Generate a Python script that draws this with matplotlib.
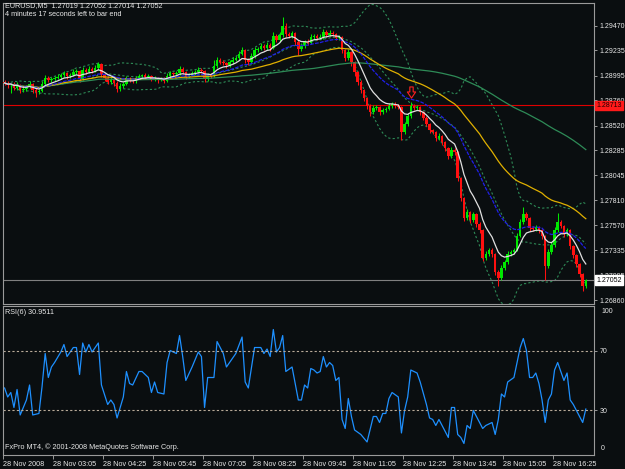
import numpy as np
import pandas as pd
import matplotlib
matplotlib.use("Agg")
import matplotlib.pyplot as plt
import matplotlib.transforms as mtransforms
from matplotlib.path import Path

closes = [
    1.28924, 1.28905, 1.28914, 1.28876, 1.28905, 1.28857, 1.28867, 1.28886,
    1.28914, 1.28857, 1.28838, 1.28848, 1.28914, 1.28971, 1.28952, 1.28962,
    1.28971, 1.28981, 1.29000, 1.29019, 1.28990, 1.29000, 1.29028, 1.29038,
    1.28962, 1.29047, 1.29028, 1.29057, 1.29038, 1.29066, 1.29104, 1.29009,
    1.28971, 1.28933, 1.28952, 1.28924, 1.28867, 1.28895, 1.28914, 1.28971,
    1.28952, 1.28943, 1.28971, 1.28990, 1.29000, 1.28981, 1.28990, 1.28962,
    1.28971, 1.28952, 1.28962, 1.28943, 1.28990, 1.29019, 1.29009, 1.29019,
    1.29057, 1.29028, 1.28990, 1.29000, 1.29019, 1.29028, 1.29047, 1.29038,
    1.28962, 1.29000, 1.28990, 1.29085, 1.29142, 1.29123, 1.29114, 1.29095,
    1.29123, 1.29142, 1.29161, 1.29199, 1.29237, 1.29142, 1.29123, 1.29180,
    1.29237, 1.29247, 1.29275, 1.29256, 1.29285, 1.29256, 1.29370, 1.29332,
    1.29380, 1.29465, 1.29389, 1.29370, 1.29399, 1.29313, 1.29247, 1.29275,
    1.29313, 1.29304, 1.29361, 1.29370, 1.29351, 1.29361, 1.29408, 1.29380,
    1.29399, 1.29389, 1.29351, 1.29361, 1.29237, 1.29161, 1.29218, 1.29123,
    1.29028, 1.28933, 1.28857, 1.28781, 1.28705, 1.28648, 1.28686, 1.28696,
    1.28648, 1.28667, 1.28677, 1.28705, 1.28724, 1.28705, 1.28696, 1.28458,
    1.28534, 1.28610, 1.28705, 1.28686, 1.28696, 1.28648, 1.28591, 1.28534,
    1.28477, 1.28458, 1.28401, 1.28420, 1.28363, 1.28306, 1.28230, 1.28287,
    1.28268, 1.28021, 1.27831, 1.27641, 1.27698, 1.27622, 1.27679, 1.27584,
    1.27527, 1.27261, 1.27299, 1.27337, 1.27299, 1.27128, 1.27071, 1.27166,
    1.27223, 1.27299, 1.27318, 1.27337, 1.27470, 1.27603, 1.27679, 1.27641,
    1.27546, 1.27537, 1.27556, 1.27527, 1.27470, 1.27185, 1.27318, 1.27385,
    1.27527, 1.27603, 1.27565, 1.27489, 1.27527, 1.27375, 1.27290, 1.27204,
    1.27109, 1.26995, 1.27052,
]
first_open = 1.28933

# ombres hautes / basses en pips
upper_wick = [
    2, 2, 1, 2, 3, 1, 2, 2, 3, 1, 2, 2, 3, 3, 2, 2,
    2, 3, 2, 2, 1, 2, 3, 2, 1, 3, 2, 3, 2, 3, 2, 1,
    1, 2, 3, 1, 2, 3, 2, 2, 1, 2, 2, 2, 1, 2, 2, 1,
    2, 1, 2, 2, 3, 2, 1, 2, 3, 2, 1, 2, 2, 2, 3, 2,
    1, 2, 2, 6, 3, 2, 2, 1, 2, 3, 2, 3, 3, 1, 2, 3,
    3, 2, 3, 2, 3, 2, 4, 2, 3, 9, 3, 2, 2, 1, 2, 3,
    2, 3, 3, 2, 2, 3, 3, 2, 3, 2, 1, 2, 1, 1, 3, 1,
    1, 1, 2, 1, 1, 2, 3, 2, 1, 2, 2, 3, 2, 2, 2, 1,
    2, 3, 4, 2, 2, 1, 1, 2, 1, 1, 1, 3, 1, 1, 1, 3,
    2, 1, 1, 1, 3, 1, 2, 1, 2, 1, 3, 2, 2, 1, 2, 3,
    2, 3, 2, 2, 3, 3, 7, 2, 1, 2, 2, 1, 1, 1, 3, 3,
    3, 9, 2, 1, 2, 1, 1, 1, 1, 1, 1,
]
lower_wick = [
    2, 3, 8, 2, 2, 3, 2, 2, 1, 3, 5, 2, 1, 2, 2, 2,
    2, 1, 2, 2, 3, 2, 1, 2, 3, 1, 2, 1, 2, 1, 2, 3,
    3, 2, 2, 3, 3, 2, 2, 1, 2, 2, 2, 1, 2, 1, 2, 2,
    2, 3, 1, 2, 1, 2, 2, 1, 2, 2, 3, 2, 1, 2, 1, 2,
    3, 2, 2, 1, 2, 2, 2, 3, 2, 2, 1, 2, 1, 3, 3, 2,
    2, 2, 1, 2, 2, 3, 1, 2, 2, 2, 3, 2, 2, 3, 6, 2,
    2, 2, 1, 2, 2, 1, 2, 2, 1, 2, 2, 2, 3, 3, 2, 4,
    4, 3, 3, 3, 3, 4, 2, 2, 3, 2, 2, 1, 2, 2, 2, 8,
    2, 2, 2, 2, 2, 3, 2, 2, 3, 2, 3, 2, 3, 3, 3, 2,
    3, 3, 3, 3, 2, 3, 2, 3, 3, 3, 2, 2, 3, 3, 8, 2,
    2, 2, 2, 2, 1, 1, 2, 2, 3, 2, 2, 3, 3, 13, 2, 2,
    2, 2, 2, 3, 2, 3, 3, 3, 3, 5, 2,
]

rsi_bars = [0, 1, 2, 3, 4, 5, 6, 7, 8, 9, 11, 12, 13, 14, 15, 16, 18, 19, 20, 22,
            23, 24, 25, 26, 27, 28, 30, 31, 33, 34, 35, 36, 38, 39, 40, 41, 43, 44,
            46, 47, 48, 49, 51, 52, 53, 55, 56, 57, 58, 60, 62, 63, 64, 65, 67, 68,
            70, 71, 74, 76, 77, 78, 80, 82, 83, 84, 85, 86, 87, 88, 89, 90, 92, 94,
            95, 96, 97, 98, 99, 100, 101, 102, 103, 104, 105, 106, 107, 108, 109,
            110, 111, 112, 114, 116, 118, 119, 120, 121, 122, 123, 124, 126, 127,
            128, 129, 130, 132, 133, 135, 136, 137, 138, 139, 142, 143, 144, 145,
            146, 147, 148, 149, 150, 151, 153, 154, 156, 157, 158, 159, 160, 161,
            163, 165, 166, 167, 168, 169, 170, 171, 172, 173, 174, 175, 176, 177,
            179, 180, 181, 182, 183, 185, 186]
rsi_vals = [45, 39, 42, 32, 44, 27, 32, 37, 47, 27, 28, 46, 68, 52, 59, 62, 69, 74, 66, 72,
            72, 54, 75, 69, 74, 69, 75, 47, 34, 37, 34, 25, 39, 56, 48, 47, 56, 56,
            52, 42, 49, 42, 41, 62, 70, 68, 80, 66, 50, 59, 69, 66, 32, 52, 52, 76,
            68, 59, 68, 79, 49, 45, 72, 72, 68, 71, 66, 84, 69, 72, 80, 56, 59, 37,
            37, 47, 45, 58, 57, 55, 56, 66, 59, 62, 60, 50, 52, 24, 18,
            38, 26, 17, 14, 9, 26, 26, 22, 28, 28, 38, 42, 39, 15,
            30, 39, 57, 55, 49, 34, 25, 24, 20, 24, 12, 32, 32, 14,
            12, 8, 20, 18, 30, 26, 18, 20, 22, 14, 24, 41, 39, 49,
            52, 72, 78, 70, 52, 52, 55, 48, 37, 22, 37, 41, 57, 62,
            50, 55, 37, 34, 30, 22, 30.95]

time_labels = ["28 Nov 2008", "28 Nov 03:05", "28 Nov 04:25", "28 Nov 05:45",
               "28 Nov 07:05", "28 Nov 08:25", "28 Nov 09:45", "28 Nov 11:05",
               "28 Nov 12:25", "28 Nov 13:45", "28 Nov 15:05", "28 Nov 16:25"]
price_ticks = [1.29470, 1.29235, 1.28995, 1.28760, 1.28520, 1.28285,
               1.28045, 1.27810, 1.27570, 1.27335, 1.27095, 1.26860]
ask_price = 1.28713
last_price = 1.27052
arrow_bar = 130
arrow_price = 1.28838

BG = "#0a0e10"
FRAME = "#9a9a9a"
TXT = "#e8e8e8"
FONT = "Liberation Sans"

n = len(closes)
x = np.arange(n)
opens = [first_open] + closes[:-1]
o = np.array(opens)
c = np.array(closes)
hi = np.maximum(o, c) + np.array(upper_wick) * 0.0001
lo = np.minimum(o, c) - np.array(lower_wick) * 0.0001

s = pd.Series(closes)
ma_white = s.ewm(span=8).mean()
ma_blue = s.ewm(span=21).mean()
ma_yellow = s.ewm(span=50).mean()
ma_green = s.rolling(100, min_periods=1).mean()
bb_mid = s.rolling(20, min_periods=1).mean()
bb_sd = s.rolling(20, min_periods=3).std(ddof=0)

fig = plt.figure(figsize=(6.25, 4.69), dpi=100, facecolor=BG)
ax = fig.add_axes([3 / 625, 165 / 469, 591 / 625, 301 / 469], facecolor=BG)
ax2 = fig.add_axes([3 / 625, 14 / 469, 591 / 625, 149 / 469], facecolor=BG, sharex=ax)

# bandes de Bollinger
ax.plot(x, bb_mid + 2 * bb_sd, color="#2e8b57", lw=0.8, ls=(0, (2, 2)))
ax.plot(x, bb_mid - 2 * bb_sd, color="#2e8b57", lw=0.8, ls=(0, (2, 2)))
ax.plot(x, bb_mid, color="#2e8b57", lw=0.8, ls=(0, (2, 2)))

# bougies
up = c >= o
col = np.where(up, "#00e800", "#ff1010")
ax.vlines(x, lo, hi, colors=col, lw=0.75, zorder=3)
body = np.maximum(np.abs(c - o), 0.00003)
ax.bar(x, body, bottom=np.minimum(o, c), width=0.8, color=col, lw=0, zorder=3)

# moyennes mobiles
ax.plot(x, ma_green, color="#2e8b57", lw=0.9, zorder=4)
ax.plot(x, ma_yellow, color="#e0b000", lw=0.9, zorder=4)
ax.plot(x, ma_blue, color="#2020e8", lw=0.9, ls=(0, (3, 1)), zorder=4)
ax.plot(x, ma_white, color="#e0e0e0", lw=0.9, zorder=4)

ax.axhline(ask_price, color="#e00000", lw=0.8, zorder=2)
ax.axhline(last_price, color="#808080", lw=0.8, zorder=2)

# fleche de signal (creuse, vers le bas)
arrow_path = Path([(-0.3, 1), (0.3, 1), (0.3, 0.1), (0.75, 0.1), (0, -1),
                   (-0.75, 0.1), (-0.3, 0.1), (-0.3, 1)], closed=True)
ax.plot([arrow_bar], [arrow_price], marker=arrow_path, ms=8, mfc="none",
        mec="#ff2020", mew=0.8, ls="none", zorder=5)

ax.set_xlim(-0.5, -0.5 + 591 / 3.125)
ax.set_ylim(1.26824, 1.29684)
ax.yaxis.tick_right()
ax.set_yticks(price_ticks)
ax.set_yticklabels(["%.5f" % p for p in price_ticks])
ax.tick_params(axis="y", colors=FRAME, labelcolor=TXT, labelsize=5, length=2.5,
               width=0.7, pad=1.5)
ax.tick_params(axis="x", bottom=False, labelbottom=False)
for lab in ax.get_yticklabels():
    lab.set_family(FONT)

tr = mtransforms.blended_transform_factory(ax.transAxes, ax.transData)
ax.text(1.004, ask_price, "%.5f" % ask_price, transform=tr, fontsize=5, family=FONT,
        color="#200000", va="center", ha="left", zorder=10,
        bbox=dict(boxstyle="square,pad=0.15", fc="#ff1a1a", ec="#ff1a1a"))
ax.text(1.004, last_price, "%.5f" % last_price, transform=tr, fontsize=5, family=FONT,
        color="black", va="center", ha="left", zorder=10,
        bbox=dict(boxstyle="square,pad=0.15", fc="white", ec="white"))

# RSI
ax2.plot(rsi_bars, rsi_vals, color="#1e90ff", lw=0.9)
ax2.axhline(70, color="#b8aa98", lw=0.8, ls=(0, (2, 2)))
ax2.axhline(30, color="#b8aa98", lw=0.8, ls=(0, (2, 2)))
ax2.set_ylim(0.3, 99.7)
ax2.yaxis.tick_right()
ax2.set_yticks([70, 30])
ax2.set_yticklabels(["70", "30"])
ax2.tick_params(axis="y", colors=FRAME, labelcolor=TXT, labelsize=5, length=2.5,
                width=0.7, pad=1.5)
ax2.text(1.012, 0.985, "100", transform=ax2.transAxes, fontsize=5, family=FONT,
         color=TXT, va="top", ha="left")
ax2.text(1.012, 0.02, "0", transform=ax2.transAxes, fontsize=5, family=FONT,
         color=TXT, va="bottom", ha="left")
ax2.set_xticks([16 * k - 0.5 for k in range(len(time_labels))])
ax2.set_xticklabels(time_labels)
ax2.tick_params(axis="x", colors=FRAME, labelcolor=TXT, labelsize=5.2, length=3,
                width=0.7, pad=1.5)
for lab in ax2.get_xticklabels():
    lab.set_family(FONT)
    lab.set_ha("left")
for lab in ax2.get_yticklabels():
    lab.set_family(FONT)

for a in (ax, ax2):
    for sp in a.spines.values():
        sp.set_color(FRAME)
        sp.set_linewidth(0.8)

ax2.text(0.004, 0.955, "RSI(6) 30.9511", transform=ax2.transAxes, fontsize=5.2,
         family=FONT, color=TXT, va="center", ha="left")
ax2.text(0.004, 0.05, "FxPro MT4, \u00a9 2001-2008 MetaQuotes Software Corp.",
         transform=ax2.transAxes, fontsize=5.2, family=FONT, color=TXT,
         va="center", ha="left")
fig.text(5 / 625, 1 - 6 / 469, "EURUSD,M5  1.27019 1.27052 1.27014 1.27052",
         fontsize=5.2, family=FONT, color=TXT, va="center", ha="left")
fig.text(5 / 625, 1 - 15 / 469, "4 minutes 17 seconds left to bar end",
         fontsize=5.2, family=FONT, color=TXT, va="center", ha="left")

fig.savefig("out.png", dpi=100, facecolor=BG)
